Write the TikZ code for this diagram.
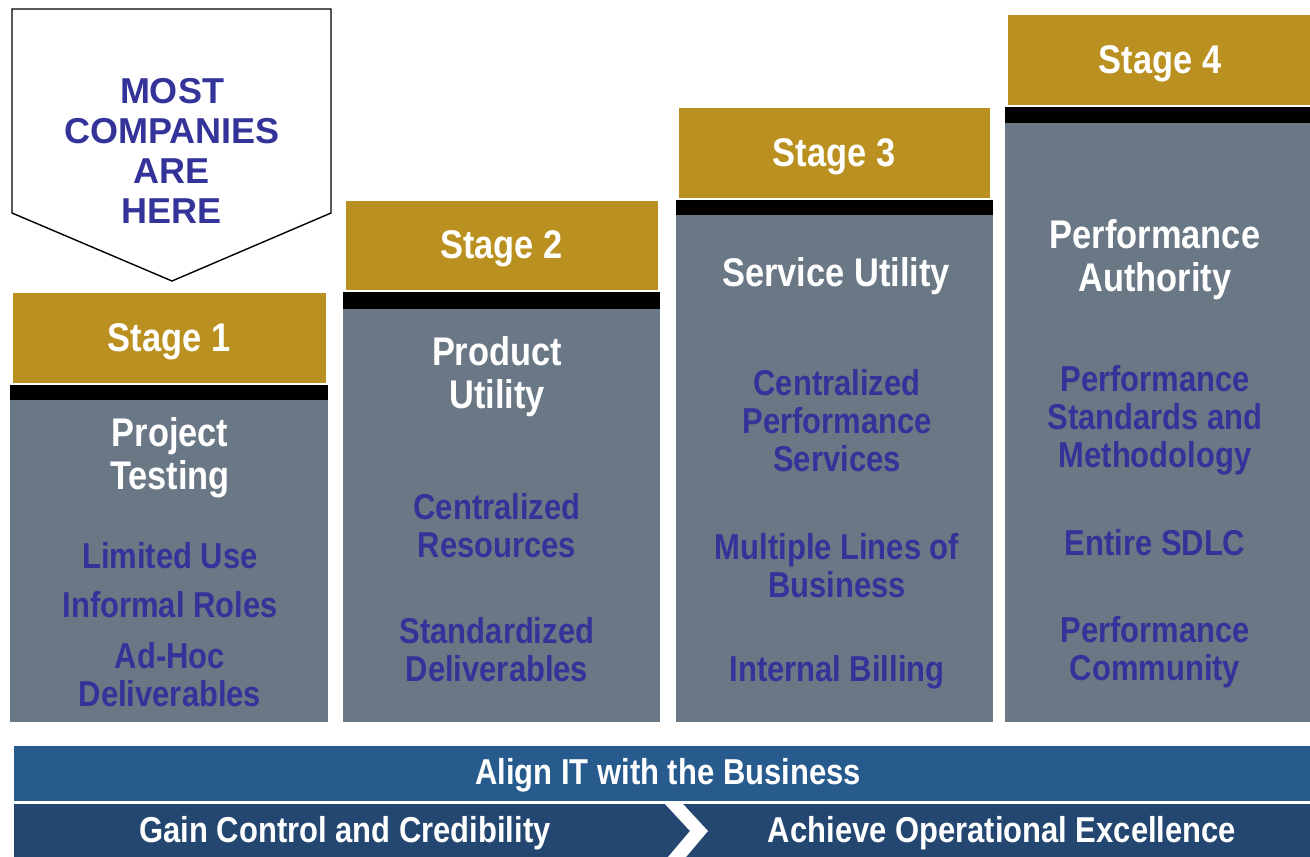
\documentclass[tikz,border=0pt]{standalone}
\usepackage{fontspec}
\setmainfont{Liberation Sans}
\newfontfamily\narrow[FakeStretch=0.86]{Liberation Sans}
\definecolor{gold}{HTML}{BA9020}
\definecolor{slate}{HTML}{6A7886}
\definecolor{ink}{HTML}{333399}
\definecolor{barA}{HTML}{285B8D}
\definecolor{barB}{HTML}{234770}
\tikzset{
  stagebox/.style={fill=gold, draw=white, line width=1pt, inner sep=0pt, text=white,
    text depth=0pt, font=\narrow\bfseries\fontsize{40}{43}\selectfont},
  head/.style={align=center, text=white, inner sep=0pt, yshift=-4pt,
    font=\narrow\bfseries\fontsize{40}{43}\selectfont},
  item/.style={align=center, text=ink, inner sep=0pt, font=\narrow\bfseries\fontsize{36}{38}\selectfont},
  bartext/.style={text=white, inner sep=0pt, yshift=-3pt, font=\narrow\bfseries\fontsize{36}{38}\selectfont},
}
\begin{document}
\begin{tikzpicture}[x=1pt,y=-1pt]
\useasboundingbox (0,0) rectangle (1310,857);
% gray columns
\fill[slate] (10,400) rectangle (328,722);
\fill[slate] (343,309) rectangle (660,722);
\fill[slate] (676,215) rectangle (993,722);
\fill[slate] (1005,123) rectangle (1310,722);
% black bars
\fill[black] (10,385) rectangle (328,400);
\fill[black] (343,292) rectangle (660,309);
\fill[black] (676,200) rectangle (993,215);
\fill[black] (1005,107) rectangle (1310,123);
% gold stage boxes
\node[stagebox, minimum width=314pt, minimum height=91pt] (s1) at (169,337.5) {Stage 1};
\node[stagebox, minimum width=313pt, minimum height=90pt] (s2) at (501.5,245) {Stage 2};
\node[stagebox, minimum width=312pt, minimum height=91pt] (s3) at (834,152.5) {Stage 3};
\node[stagebox, minimum width=305pt, minimum height=91pt] (s4) at (1160,59.5) {Stage 4};
% pointer
\draw[fill=white, line width=1.4pt, line join=miter] (12,9) -- (331,9) -- (331,213) -- (172,281) -- (12,213) -- cycle;
\node[align=center, text=ink, inner sep=0pt, font=\bfseries\fontsize{36}{40}\selectfont] (most) at (172,151) {MOST\\COMPANIES\\ARE\\HERE};
% column 1
\node[head] (h1) at (170,454) {Project\\Testing};
\node[item] (c1a) at (170,556) {Limited Use};
\node[item] (c1b) at (170,605) {Informal Roles};
\node[item] (c1c) at (170,675) {Ad-Hoc\\Deliverables};
% column 2
\node[head] (h2) at (497,373) {Product\\Utility};
\node[item] (c2a) at (497,526) {Centralized\\Resources};
\node[item] (c2b) at (497,650) {Standardized\\Deliverables};
% column 3
\node[head] (h3) at (836,272) {Service Utility};
\node[item] (c3a) at (837,421) {Centralized\\Performance\\Services};
\node[item] (c3b) at (837,566) {Multiple Lines of\\Business};
\node[item] (c3c) at (837,672) {Internal Billing};
% column 4
\node[head] (h4) at (1155,256) {Performance\\Authority};
\node[item] (c4a) at (1155,420) {Performance\\Standards and\\Methodology};
\node[item] (c4b) at (1155,543) {Entire SDLC};
\node[item] (c4c) at (1155,652) {Performance\\Community};
% bottom bars
\fill[barA] (14,746) rectangle (1310,801);
\fill[barB] (14,804) rectangle (1310,857);
\fill[white] (665,804) -- (683,804) -- (708,831) -- (686,857) -- (668,857) -- (690,831) -- cycle;
\node[bartext] (align) at (668,772) {Align IT with the Business};
\node[bartext] (gain) at (345,830) {Gain Control and Credibility};
\node[bartext] (achieve) at (1002,830) {Achieve Operational Excellence};
\end{tikzpicture}
\end{document}
